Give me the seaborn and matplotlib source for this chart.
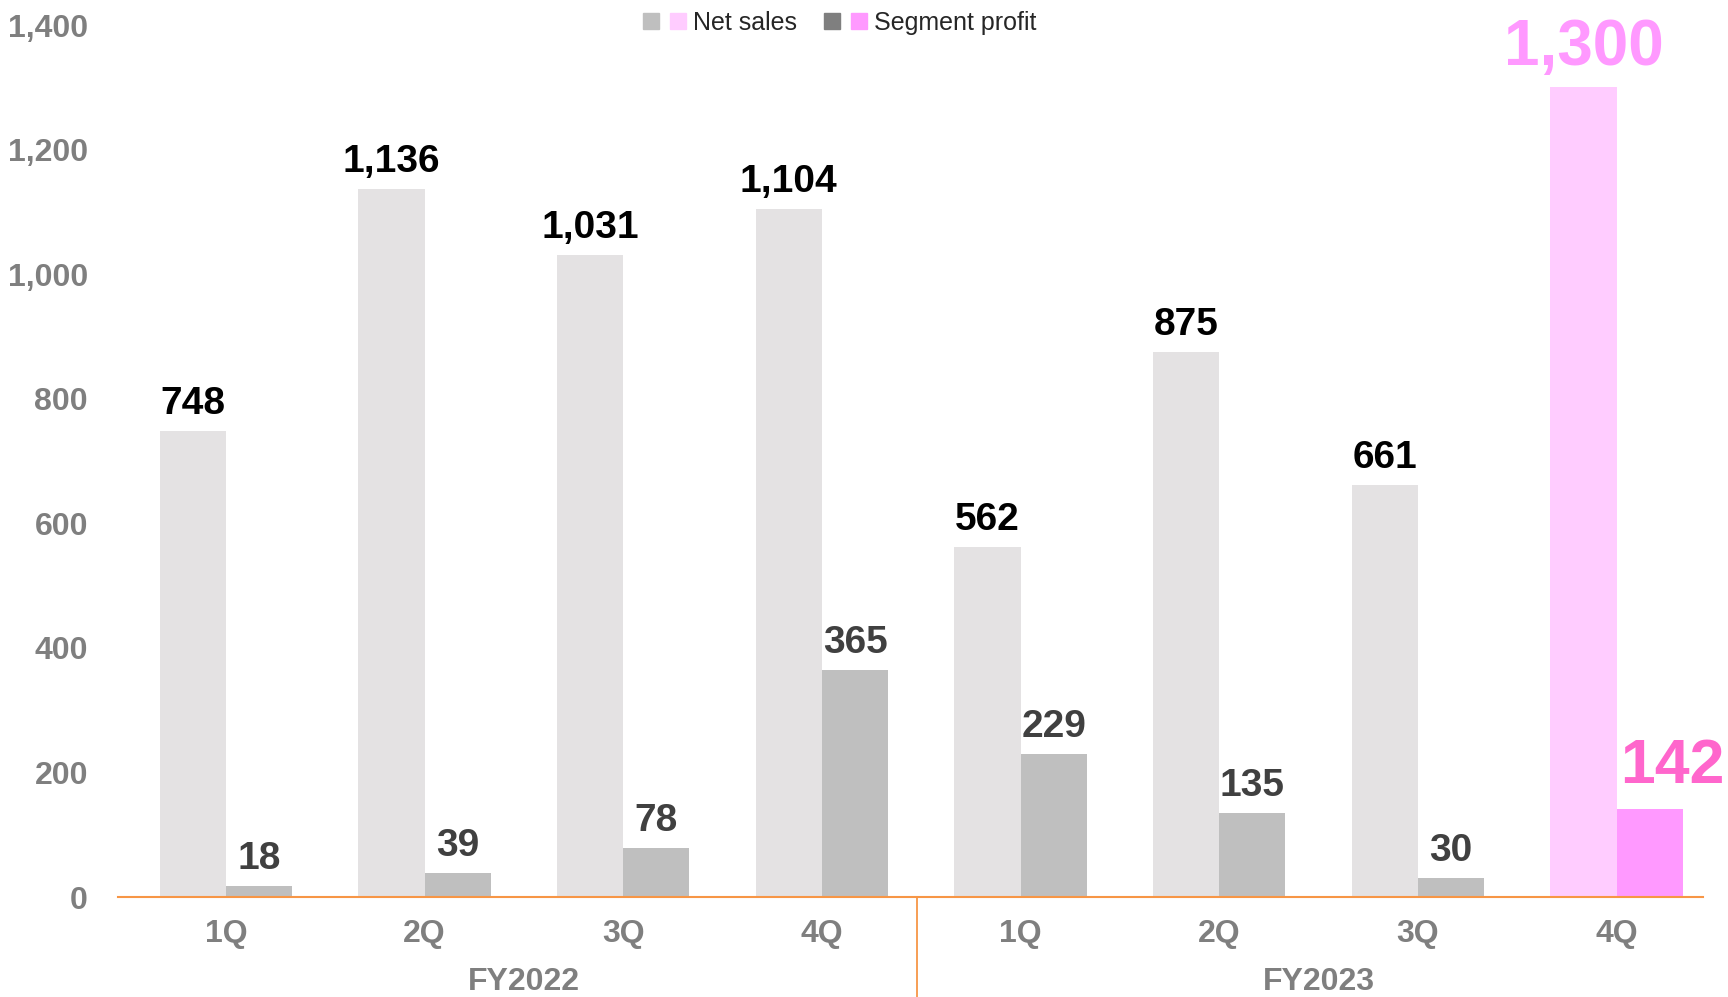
import numpy as np
import pandas as pd
import matplotlib
matplotlib.use('Agg')
import matplotlib.pyplot as plt
import matplotlib.transforms as mtransforms
from matplotlib.lines import Line2D
from matplotlib.legend_handler import HandlerTuple
import seaborn as sns

# data
quarters = ['1Q', '2Q', '3Q', '4Q', '1Q', '2Q', '3Q', '4Q']
years = ['FY2022', 'FY2023']
net_sales = [748, 1136, 1031, 1104, 562, 875, 661, 1300]
segment_profit = [18, 39, 78, 365, 229, 135, 30, 142]

periods = [years[i // 4] + ' ' + q for i, q in enumerate(quarters)]
df = pd.DataFrame({
    'period': periods * 2,
    'value': net_sales + segment_profit,
    'series': ['Net sales'] * 8 + ['Segment profit'] * 8,
})

sns.set_style('white')
plt.rcParams['font.family'] = ['Liberation Sans', 'DejaVu Sans']

orange = '#f79646'
tick_gray = '#7f7f7f'

fig = plt.figure(figsize=(17.28, 9.97), dpi=100)
ax = fig.add_axes([0.0683, 0.1003, 0.9172, 0.8746])

sns.barplot(data=df, x='period', y='value', hue='series',
            palette=['#e4e2e3', '#bfbfbf'], width=0.667, saturation=1,
            errorbar=None, linewidth=0, ax=ax, legend=False)

# highlight the latest quarter (forecast) in pink
ax.containers[0][7].set_facecolor('#ffccff')
ax.containers[1][7].set_facecolor('#ff99ff')

# value labels
ax.bar_label(ax.containers[0], labels=[f'{v:,}' for v in net_sales[:7]] + [''],
             padding=6.5, fontsize=28, fontweight='bold', color='black')
ax.bar_label(ax.containers[1], labels=[f'{v:,}' for v in segment_profit[:7]] + [''],
             padding=6.5, fontsize=28, fontweight='bold', color='#404040')

b = ax.containers[0][7]
ax.annotate(f'{net_sales[7]:,}', xy=(b.get_x() + b.get_width() / 2, b.get_height()),
            xytext=(0, 7), textcoords='offset points', ha='center', va='bottom',
            fontsize=46, fontweight='bold', color='#ff99ff')
b = ax.containers[1][7]
ax.annotate(f'{segment_profit[7]:,}', xy=(b.get_x() + b.get_width() / 2, b.get_height()),
            xytext=(16, 9), textcoords='offset points', ha='center', va='bottom',
            fontsize=45, fontweight='bold', color='#ff66cc', annotation_clip=False)

# axes
ax.set_ylim(0, 1400)
ax.set_xlim(-0.543, 7.435)
ax.set_yticks(range(0, 1401, 200))
ax.set_yticklabels([f'{v:,}' for v in range(0, 1401, 200)])
ax.set_xticks(range(8))
ax.set_xticklabels(quarters)
ax.tick_params(axis='y', length=0, pad=21.6, labelsize=23, labelcolor=tick_gray)
ax.tick_params(axis='x', length=0, pad=16, labelsize=23, labelcolor=tick_gray)
for lab in ax.get_xticklabels() + ax.get_yticklabels():
    lab.set_fontweight('bold')
ax.set_xlabel('')
ax.set_ylabel('')
ax.grid(False)
for s in ['left', 'top', 'right']:
    ax.spines[s].set_visible(False)
ax.spines['bottom'].set_color(orange)
ax.spines['bottom'].set_linewidth(1.5)

# fiscal year labels and divider
trans = mtransforms.blended_transform_factory(ax.transData, ax.transAxes)
for i, y in enumerate(years):
    ax.text(1.5 + 4 * i, -0.1062, y, transform=trans, ha='center', va='baseline',
            fontsize=23, fontweight='bold', color=tick_gray)
ax.plot([3.48, 3.48], [0, -0.12], transform=trans, color=orange, lw=1.3, clip_on=False)

# legend with paired swatches
def sq(c):
    return Line2D([], [], marker='s', ls='', color=c, markersize=11.5)

handles = [(sq('#bfbfbf'), sq('#ffccff')), (sq('#7f7f7f'), sq('#ff99ff'))]
fig.legend(handles, ['Net sales', 'Segment profit'],
           handler_map={tuple: HandlerTuple(ndivide=None, pad=0.44)},
           loc='center', bbox_to_anchor=(0.486, 0.977), ncol=2, frameon=False,
           prop={'size': 18, 'weight': 'normal'}, handlelength=1.72,
           handletextpad=0.28, columnspacing=1.05)

fig.savefig('out.png', dpi=100)
